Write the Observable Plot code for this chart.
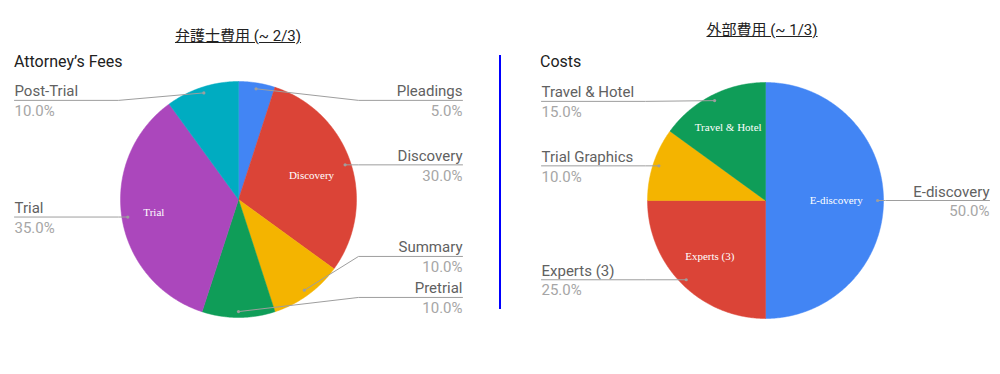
<!DOCTYPE html>
<html><head><meta charset="utf-8">
<script src="https://cdn.jsdelivr.net/npm/d3@7"></script>
<script src="https://cdn.jsdelivr.net/npm/@observablehq/plot@0.6"></script>
<style>
body{margin:0;background:#fff;}
#wrap{position:relative;width:1000px;height:374px;overflow:hidden;font-family:Roboto,"Noto Sans",sans-serif;}
.title{position:absolute;font-size:15px;line-height:15px;color:#222;text-decoration:underline;white-space:nowrap;transform:translateX(-50%);font-family:Roboto,"Noto Sans CJK JP",sans-serif;}
.sub{position:absolute;font-size:16px;line-height:16px;color:#212121;white-space:nowrap;font-family:Roboto,sans-serif;}
.plot{position:absolute;top:70px;}
#divider{position:absolute;left:499px;top:55px;width:2px;height:254px;background:#0000ff;}
</style></head><body>
<div id="wrap">
  <div class="title" style="left:238px;top:29px;">弁護士費用 (~ 2/3)</div>
  <div class="title" style="left:762px;top:23px;">外部費用 (~ 1/3)</div>
  <div class="sub" style="left:14px;top:54px;">Attorney’s Fees</div>
  <div class="sub" style="left:540px;top:54px;">Costs</div>
  <div class="plot" id="left" style="left:0px;"></div>
  <div class="plot" id="right" style="left:500px;"></div>
  <div id="divider"></div>
</div>
<script>
// ---- data ----
const feeCategories = ["Pleadings", "Discovery", "Summary", "Pretrial", "Trial", "Post-Trial"];
const feeShares = [5, 30, 10, 10, 35, 10];
const feeColors = ["#4285f4", "#db4437", "#f4b400", "#0f9d58", "#ab47bc", "#00acc1"];

const costCategories = ["E-discovery", "Experts (3)", "Trial Graphics", "Travel & Hotel"];
const costShares = [50, 25, 10, 15];
const costColors = ["#4285f4", "#db4437", "#f4b400", "#0f9d58"];

const insideLabelMinShare = 15;

// ---- layout ----
function pieChart({categories, values, colors, width, height, cx, cy, r, labelX}) {
  const total = d3.sum(values);
  const rows = categories.map((name, i) => ({name, value: values[i]}));
  const arcs = d3.pie().sort(null).value(d => d.value)(rows);
  const polar = (a, rr) => [rr * Math.sin(a), -rr * Math.cos(a)];

  const slicePts = [];
  for (const p of arcs) {
    const name = p.data.name;
    slicePts.push({name, x: 0, y: 0});
    const n = Math.max(2, Math.ceil((p.endAngle - p.startAngle) / (Math.PI / 360)));
    for (let k = 0; k <= n; k++) {
      const a = p.startAngle + (p.endAngle - p.startAngle) * k / n;
      const [x, y] = polar(a, r);
      slicePts.push({name, x, y});
    }
    slicePts.push({name, x: 0, y: 0});
  }

  const labels = arcs.map(p => {
    const mid = (p.startAngle + p.endAngle) / 2;
    const [dotX, dotY] = polar(mid, r * 0.95);
    return {
      name: p.data.name,
      value: p.data.value,
      pct: (p.data.value / total * 100).toFixed(1) + "%",
      mid, dotX, dotY,
      side: Math.sin(mid) > -1e-9 ? 1 : -1,
      lineY: dotY
    };
  });

  const minY = -0.84 * r, maxY = 0.83 * r, gap = 41;
  for (const side of [1, -1]) {
    const s = labels.filter(d => d.side === side).sort((a, b) => a.dotY - b.dotY);
    s.forEach(d => d.lineY = Math.max(d.dotY, minY));
    for (let i = s.length - 1; i >= 0; i--) {
      const lim = i === s.length - 1 ? maxY : s[i + 1].lineY - gap;
      s[i].lineY = Math.min(s[i].lineY, lim);
    }
    for (let i = 1; i < s.length; i++) s[i].lineY = Math.max(s[i].lineY, s[i - 1].lineY + gap);
  }

  const leaderPts = [];
  for (const d of labels) {
    leaderPts.push({name: d.name, x: d.dotX, y: d.dotY});
    leaderPts.push({name: d.name, x: d.side * (r + 2), y: d.lineY});
    leaderPts.push({name: d.name, x: d.side * labelX, y: d.lineY});
  }

  const inside = labels.filter(d => d.value >= insideLabelMinShare).map(d => {
    const halfW = d.name.length * 0.45 * 11 / 2;
    const rho = 0.83 * r - halfW * Math.abs(Math.sin(d.mid));
    const [x, y] = polar(d.mid, rho);
    return {name: d.name, x, y};
  });

  const nameStyle = {fontSize: 15, fill: "#616161", fontFamily: "Roboto", lineAnchor: "bottom", dy: -4};
  const pctStyle = {fontSize: 15, fill: "#a6a6a6", fontFamily: "Roboto", lineAnchor: "top", dy: 5};

  return Plot.plot({
    width, height, margin: 0,
    x: {domain: [-cx, width - cx], range: [0, width], axis: null},
    y: {domain: [-cy, height - cy], range: [0, height], axis: null},
    color: {domain: categories, range: colors},
    style: {background: "transparent", overflow: "visible"},
    marks: [
      Plot.line(slicePts, {x: "x", y: "y", z: "name", fill: "name", stroke: "name", strokeWidth: 0.5, curve: "linear"}),
      Plot.line(leaderPts, {x: "x", y: "y", z: "name", stroke: "#9e9e9e", strokeWidth: 1}),
      Plot.dot(labels, {x: "dotX", y: "dotY", r: 1.6, fill: "#9e9e9e"}),
      Plot.text(labels.filter(d => d.side > 0), {x: d => labelX, y: "lineY", text: "name", textAnchor: "end", ...nameStyle}),
      Plot.text(labels.filter(d => d.side < 0), {x: d => -labelX, y: "lineY", text: "name", textAnchor: "start", ...nameStyle}),
      Plot.text(labels.filter(d => d.side > 0), {x: d => labelX, y: "lineY", text: "pct", textAnchor: "end", ...pctStyle}),
      Plot.text(labels.filter(d => d.side < 0), {x: d => -labelX, y: "lineY", text: "pct", textAnchor: "start", ...pctStyle}),
      Plot.text(inside, {x: "x", y: "y", text: "name", fill: "white", fontSize: 11, fontFamily: "Liberation Serif, Times New Roman, serif"})
    ]
  });
}

document.getElementById("left").append(pieChart({
  categories: feeCategories, values: feeShares, colors: feeColors,
  width: 500, height: 304, cx: 238, cy: 129, r: 118, labelX: 224
}));
document.getElementById("right").append(pieChart({
  categories: costCategories, values: costShares, colors: costColors,
  width: 500, height: 304, cx: 265, cy: 130, r: 118, labelX: 224
}));
</script>
</body></html>
